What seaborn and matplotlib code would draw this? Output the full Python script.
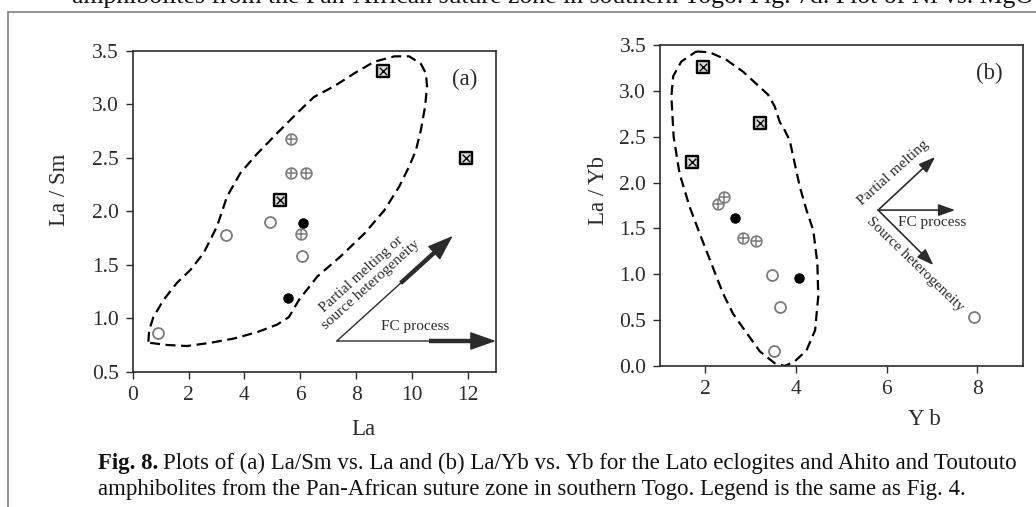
import numpy as np
import seaborn as sns
from matplotlib import pyplot as plt
from matplotlib.lines import Line2D

# ---- panel (a): La/Sm vs La ----
la_open = [0.9, 3.35, 4.9, 6.05]
lasm_open = [0.86, 1.78, 1.90, 1.58]
la_cross = [5.68, 5.68, 6.2, 6.02]
lasm_cross = [2.68, 2.36, 2.36, 1.79]
la_filled = [6.1, 5.56]
lasm_filled = [1.89, 1.19]
la_box = [8.98, 5.29, 11.95]
lasm_box = [3.31, 2.11, 2.50]

# field outline (a)
field_a_x = [0.56, 0.59, 0.74, 1.10, 1.58, 2.06, 2.54, 3.02, 3.38, 3.86, 4.46, 5.17, 5.89,
             6.49, 7.21, 7.93, 8.65, 9.37, 9.90, 10.32, 10.50, 10.54, 10.47, 10.32, 10.14,
             9.90, 9.54, 9.01, 8.29, 7.45, 6.61, 5.95, 5.59, 5.17, 4.46, 3.62, 2.78, 1.94,
             1.22, 0.62, 0.56]
field_a_y = [0.78, 0.89, 1.01, 1.17, 1.33, 1.45, 1.61, 1.86, 2.14, 2.36, 2.54, 2.73, 2.92,
             3.07, 3.17, 3.29, 3.40, 3.45, 3.45, 3.38, 3.29, 3.17, 2.98, 2.76, 2.57,
             2.42, 2.23, 2.01, 1.79, 1.58, 1.39, 1.17, 1.01, 0.94, 0.87, 0.81, 0.77, 0.74,
             0.75, 0.77, 0.78]

# ---- panel (b): La/Yb vs Yb ----
yb_open = [3.48, 3.64, 3.51, 7.93]
layb_open = [0.99, 0.64, 0.16, 0.53]
yb_cross = [2.27, 2.41, 2.84, 3.11]
layb_cross = [1.77, 1.84, 1.40, 1.36]
yb_filled = [2.66, 4.07]
layb_filled = [1.61, 0.96]
yb_box = [1.95, 3.2, 1.70]
layb_box = [3.26, 2.65, 2.22]

field_b_x = [1.80, 2.10, 2.46, 2.83, 3.16, 3.38, 3.53, 3.64, 3.75, 3.86, 3.97, 4.08, 4.23,
             4.38, 4.47, 4.49, 4.42, 4.23, 3.97, 3.75, 3.53, 3.20, 2.91, 2.61, 2.39, 2.13,
             1.87, 1.65, 1.43, 1.30, 1.25, 1.29, 1.47, 1.80]
field_b_y = [3.43, 3.42, 3.34, 3.21, 3.06, 2.96, 2.83, 2.66, 2.57, 2.46, 2.21, 1.96, 1.70,
             1.48, 1.12, 0.76, 0.39, 0.17, 0.05, 0.0, 0.03, 0.16, 0.36, 0.57, 0.79, 1.12,
             1.45, 1.74, 2.10, 2.50, 2.94, 3.16, 3.32, 3.43]

sns.set_theme(style="ticks")
plt.rcParams['font.family'] = ['Liberation Serif', 'DejaVu Serif']

GRAY = '#7a7a7a'
DARK = '#2b2b2b'
TICK_FS = 15.5
LABEL_FS = 16.5
NOTE_FS = 11

fig = plt.figure(figsize=(10.36, 5.07), dpi=100)
ax_a = fig.add_axes([0.1281, 0.2669, 0.3504, 0.6325])
ax_b = fig.add_axes([0.6371, 0.2781, 0.3501, 0.6331])


def draw_points(ax, xo, yo, xc, yc, xf, yf, xb, yb):
    sns.scatterplot(x=xo, y=yo, ax=ax, marker='o', s=62, color='white',
                    edgecolor=GRAY, linewidth=1.3, zorder=4)
    sns.scatterplot(x=xc, y=yc, ax=ax, marker='o', s=60, color='white',
                    edgecolor=GRAY, linewidth=1.2, zorder=4)
    sns.scatterplot(x=xc, y=yc, ax=ax, marker='+', s=55, color=GRAY,
                    linewidth=1.1, zorder=5)
    sns.scatterplot(x=xf, y=yf, ax=ax, marker='o', s=45, color='black',
                    edgecolor='black', linewidth=0.8, zorder=4)
    sns.scatterplot(x=xb, y=yb, ax=ax, marker='s', s=70, color='#dcdcdc',
                    edgecolor='black', linewidth=1.7, zorder=4)
    sns.scatterplot(x=xb, y=yb, ax=ax, marker='x', s=30, color='black',
                    linewidth=1.0, zorder=5)


def style_axes(ax, xlim, ylim, xticks):
    ax.set_xlim(*xlim)
    ax.set_ylim(*ylim)
    ax.set_xticks(xticks)
    ax.set_yticks(np.arange(ylim[0], 3.51, 0.5))
    ax.set_yticklabels([f"{v:.1f}" for v in np.arange(ylim[0], 3.51, 0.5)])
    ax.tick_params(direction='out', length=5, width=1.0, pad=5, labelsize=TICK_FS,
                   colors=DARK, top=False, right=False)
    for sp in ax.spines.values():
        sp.set_visible(True)
        sp.set_color(DARK)
        sp.set_linewidth(1.2)


def arrow(ax, start, end, lw=1.0, thick_from=None, head=1.0):
    ax.annotate('', xy=end, xytext=start, annotation_clip=False,
                arrowprops=dict(arrowstyle=f'-|>,head_length={0.9 * head},head_width={0.32 * head}',
                                lw=lw, color=DARK, shrinkA=0, shrinkB=0,
                                mutation_scale=14))
    if thick_from is not None:
        t = thick_from
        x0 = start[0] + t * (end[0] - start[0])
        y0 = start[1] + t * (end[1] - start[1])
        x1 = start[0] + 0.93 * (end[0] - start[0])
        y1 = start[1] + 0.93 * (end[1] - start[1])
        ax.plot([x0, x1], [y0, y1], color=DARK, lw=3.2, solid_capstyle='butt', clip_on=False)


# panel (a)
ax_a.plot(field_a_x, field_a_y, color='black', lw=1.6, dashes=(4.5, 2.5), zorder=2)
draw_points(ax_a, la_open, lasm_open, la_cross, lasm_cross, la_filled, lasm_filled,
            la_box, lasm_box)
style_axes(ax_a, (0, 13), (0.5, 3.5), range(0, 13, 2))
ax_a.set_ylabel("La / Sm", fontsize=LABEL_FS, color=DARK)
ax_a.yaxis.set_label_coords(-0.172, 0.567)
ax_a.set_xlabel("La", fontsize=LABEL_FS, color=DARK)
ax_a.xaxis.set_label_coords(0.634, -0.147)
ax_a.text(11.88, 3.23, "(a)", fontsize=LABEL_FS, ha='center', va='center', color=DARK)
arrow(ax_a, (7.31, 0.787), (11.46, 1.77), lw=1.0, thick_from=0.55, head=1.3)
arrow(ax_a, (7.31, 0.787), (13.0, 0.787), lw=1.0, thick_from=0.58, head=1.3)
ax_a.text(8.35, 1.36, "Partial melting or\nsource heterogeneity", fontsize=NOTE_FS,
          rotation=42, ha='center', va='center', rotation_mode='anchor',
          linespacing=1.1, color=DARK)
ax_a.text(10.11, 0.925, "FC process", fontsize=NOTE_FS, ha='center', va='center', color=DARK)

# panel (b)
ax_b.plot(field_b_x, field_b_y, color='black', lw=1.6, dashes=(4.5, 2.5), zorder=2)
draw_points(ax_b, yb_open, layb_open, yb_cross, layb_cross, yb_filled, layb_filled,
            yb_box, layb_box)
style_axes(ax_b, (1, 9), (0.0, 3.5), [2, 4, 6, 8])
ax_b.set_ylabel("La / Yb", fontsize=LABEL_FS, color=DARK)
ax_b.yaxis.set_label_coords(-0.141, 0.548)
ax_b.set_xlabel("Y b", fontsize=LABEL_FS, color=DARK)
ax_b.xaxis.set_label_coords(0.73, -0.134)
ax_b.text(8.26, 3.19, "(b)", fontsize=LABEL_FS, ha='center', va='center', color=DARK)
origin = (5.81, 1.70)
arrow(ax_b, origin, (7.07, 2.28), lw=1.2, head=0.8)
arrow(ax_b, origin, (7.51, 1.70), lw=1.2, head=0.8)
arrow(ax_b, origin, (7.03, 1.10), lw=1.2, head=0.8)
ax_b.text(6.15, 2.10, "Partial melting", fontsize=NOTE_FS, rotation=42, ha='center',
          va='center', rotation_mode='anchor', color=DARK)
ax_b.text(7.0, 1.57, "FC process", fontsize=NOTE_FS, ha='center', va='center', color=DARK)
ax_b.text(6.62, 1.11, "Source heterogeneity", fontsize=NOTE_FS, rotation=-44, ha='center',
          va='center', rotation_mode='anchor', color=DARK)

# page frame and surrounding text
W, H = 1036, 507
fig.add_artist(Line2D([8 / W, 1], [1 - 12 / H, 1 - 12 / H], color='#8a8a8a', lw=1.3))
fig.add_artist(Line2D([8 / W, 8 / W], [0, 1 - 12 / H], color='#8a8a8a', lw=1.3))
fig.text(72 / W, 1 - 3 / H, "amphibolites from the Pan-African suture zone in southern Togo. "
         "Fig. 7d. Plot of Ni vs. MgO", fontsize=18.5, va='baseline', ha='left', color='#111')

fig.canvas.draw()
renderer = fig.canvas.get_renderer()
CAP_FS = 16.5
bold = fig.text(98 / W, 1 - 463 / H, "Fig. 8.", fontsize=CAP_FS, fontweight='bold',
                va='center', ha='left', color='#111')
bb = bold.get_window_extent(renderer)
fig.text((bb.x1 + 5) / W, 1 - 463 / H,
         "Plots of (a) La/Sm vs. La and (b) La/Yb vs. Yb for the Lato eclogites and Ahito and Toutouto",
         fontsize=CAP_FS, va='center', ha='left', color='#111')
fig.text(98 / W, 1 - 490 / H,
         "amphibolites from the Pan-African suture zone in southern Togo. Legend is the same as Fig. 4.",
         fontsize=CAP_FS, va='center', ha='left', color='#111')

fig.savefig("out.png", dpi=100)
plt.close(fig)
